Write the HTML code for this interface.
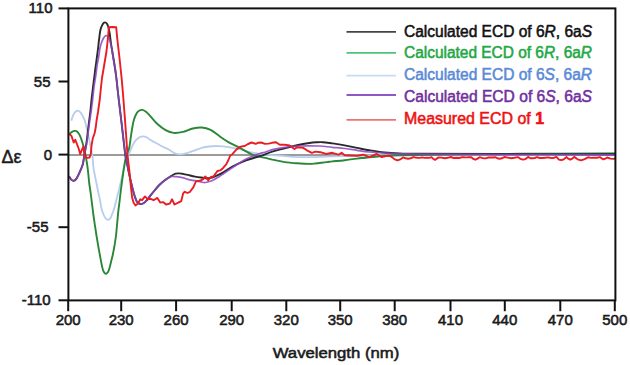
<!DOCTYPE html>
<html><head><meta charset="utf-8"><style>
html,body{margin:0;padding:0;background:#fff;}
svg{display:block;font-family:"Liberation Sans",sans-serif;}
</style></head><body>
<svg width="630" height="365" viewBox="0 0 630 365">
<rect width="630" height="365" fill="#fff"/>
<line x1="68.4" y1="155.0" x2="615.4" y2="155.0" stroke="#7a7a7a" stroke-width="1.6"/>
<path d="M71.3 120.6 C71.7 119.6 72.7 116.0 73.5 114.5 C74.3 113.0 75.2 111.9 76.0 111.3 C76.8 110.7 77.5 110.5 78.3 110.8 C79.1 111.1 80.1 111.7 81.1 113.2 C82.1 114.7 83.6 117.7 84.4 119.7 C85.2 121.7 85.4 122.9 86.0 125.2 C86.6 127.5 87.3 130.4 88.0 133.5 C88.7 136.6 89.4 140.5 90.0 143.5 C90.6 146.5 91.1 148.9 91.6 151.5 C92.1 154.1 92.5 156.5 92.8 158.8 C93.1 161.1 93.0 163.5 93.2 165.5 C93.4 167.5 93.5 168.2 94.0 171.0 C94.5 173.8 95.5 178.3 96.2 182.0 C96.9 185.7 97.8 189.9 98.4 192.9 C99.0 195.9 99.5 197.4 100.0 200.0 C100.5 202.6 100.9 206.1 101.5 208.5 C102.1 210.9 102.8 212.9 103.5 214.5 C104.2 216.1 104.8 217.4 105.5 218.3 C106.2 219.2 107.1 219.8 107.9 219.8 C108.7 219.8 109.6 219.3 110.3 218.3 C111.0 217.3 111.5 215.7 112.2 214.0 C112.9 212.3 113.5 210.8 114.3 208.0 C115.1 205.2 116.3 200.0 117.1 197.0 C117.9 194.0 118.3 192.5 118.9 190.0 C119.5 187.5 120.2 184.8 120.8 182.0 C121.4 179.2 122.1 176.2 122.8 173.0 C123.5 169.8 124.2 165.7 125.0 163.0 C125.8 160.3 126.8 158.6 127.5 157.0 C128.2 155.4 128.6 154.7 129.2 153.5 C129.8 152.3 130.2 151.1 130.8 149.6 C131.4 148.1 132.1 146.1 133.0 144.5 C133.9 142.9 134.9 141.4 136.0 140.2 C137.1 139.0 138.3 138.0 139.5 137.3 C140.7 136.7 141.8 136.3 143.0 136.3 C144.2 136.3 145.8 136.9 147.0 137.5 C148.2 138.1 148.8 138.9 150.5 140.0 C152.2 141.1 155.3 142.7 157.4 143.8 C159.5 144.9 161.2 145.9 163.0 146.8 C164.8 147.7 166.4 148.2 168.4 149.3 C170.4 150.4 172.9 152.6 175.0 153.4 C177.1 154.2 178.7 154.5 181.0 154.3 C183.3 154.2 186.4 153.2 188.7 152.5 C191.0 151.8 192.7 151.1 195.0 150.3 C197.3 149.5 200.1 148.3 202.4 147.7 C204.7 147.1 206.7 146.8 209.0 146.5 C211.3 146.2 213.8 146.0 216.1 146.0 C218.4 146.0 220.7 146.1 223.0 146.3 C225.3 146.5 227.1 146.9 229.8 147.3 C232.5 147.8 236.0 148.2 239.4 149.0 C242.8 149.8 246.2 151.3 250.0 152.2 C253.8 153.1 258.7 153.8 262.0 154.3 C265.3 154.8 267.0 154.8 270.0 155.0 C273.0 155.2 276.7 155.4 280.0 155.7 C283.3 156.0 286.7 156.3 290.0 156.6 C293.3 156.8 295.0 157.2 300.0 157.2 C305.0 157.2 313.3 157.0 320.0 156.8 C326.7 156.6 330.0 156.4 340.0 156.2 C350.0 156.0 361.7 155.8 380.0 155.5 C398.3 155.2 426.7 154.8 450.0 154.5 C473.3 154.2 492.5 154.0 520.0 153.8 C547.5 153.6 599.2 153.5 615.0 153.4" fill="none" stroke="#b6cdee" stroke-width="1.8" stroke-linejoin="round"/>
<path d="M69.6 134.0 C70.0 133.6 71.1 132.3 72.0 131.8 C72.9 131.3 74.0 131.0 74.8 130.9 C75.6 130.8 76.3 130.9 77.0 131.5 C77.7 132.1 78.5 133.1 79.2 134.2 C79.9 135.3 80.5 136.9 81.0 138.3 C81.5 139.7 81.8 140.6 82.4 142.5 C83.0 144.4 83.8 147.1 84.4 149.5 C85.0 151.9 85.4 154.4 85.9 157.0 C86.4 159.6 86.8 162.3 87.2 165.0 C87.6 167.7 87.9 170.0 88.2 173.0 C88.5 176.0 88.8 179.3 89.2 183.0 C89.7 186.7 90.4 191.2 90.9 195.0 C91.4 198.8 91.8 202.3 92.3 206.0 C92.8 209.7 93.2 213.7 93.7 217.0 C94.2 220.3 94.5 223.0 95.0 226.0 C95.5 229.0 95.7 230.8 96.4 235.0 C97.1 239.2 98.2 245.9 99.2 251.4 C100.2 256.9 101.6 264.4 102.4 267.9 C103.2 271.4 103.6 271.5 104.2 272.5 C104.8 273.5 105.5 273.8 106.1 273.7 C106.7 273.6 107.4 272.9 108.0 272.0 C108.6 271.1 109.0 269.7 109.5 268.0 C110.0 266.3 110.5 264.2 111.0 262.0 C111.5 259.8 112.2 257.5 112.8 254.7 C113.4 251.9 114.0 248.3 114.6 245.0 C115.1 241.7 115.6 238.8 116.1 235.0 C116.5 231.2 116.9 225.9 117.3 222.0 C117.7 218.1 117.9 214.9 118.3 211.4 C118.7 207.9 119.2 204.6 119.6 201.0 C120.0 197.4 120.4 193.8 120.9 190.0 C121.4 186.2 121.8 183.0 122.5 178.0 C123.2 173.0 124.5 164.2 125.3 160.0 C126.1 155.8 126.7 155.0 127.3 153.0 C127.9 151.0 128.7 150.2 129.2 148.0 C129.7 145.8 129.9 143.3 130.4 140.0 C130.9 136.7 131.6 131.4 132.2 128.0 C132.8 124.6 133.2 122.0 134.0 119.5 C134.8 117.0 135.9 114.5 136.8 113.0 C137.7 111.5 138.6 111.0 139.5 110.5 C140.4 110.0 141.2 109.7 142.3 109.9 C143.4 110.1 144.6 110.7 146.0 111.8 C147.4 112.9 148.6 114.4 150.5 116.4 C152.4 118.4 154.9 121.7 157.4 124.0 C159.9 126.3 162.9 128.6 165.6 130.1 C168.3 131.6 170.9 132.6 173.8 132.9 C176.7 133.2 180.0 132.6 183.2 131.9 C186.4 131.2 189.7 129.2 192.8 128.5 C195.9 127.8 198.7 127.3 201.7 127.5 C204.7 127.7 207.5 128.4 210.6 129.9 C213.7 131.4 217.0 134.5 220.2 136.7 C223.4 138.9 226.6 141.1 229.8 142.9 C233.0 144.7 236.7 146.3 239.4 147.7 C242.1 149.1 243.6 150.1 246.1 151.4 C248.6 152.7 251.3 154.5 254.3 155.5 C257.3 156.5 260.9 156.9 263.9 157.6 C266.9 158.3 268.8 158.8 272.3 159.6 C275.8 160.3 280.6 161.5 284.7 162.1 C288.8 162.7 292.9 163.0 297.0 163.3 C301.1 163.6 306.2 163.9 309.3 163.9 C312.4 163.9 312.6 163.8 315.5 163.5 C318.4 163.2 323.8 162.4 326.6 162.1 C329.4 161.8 329.3 161.7 332.3 161.4 C335.3 161.1 340.6 160.7 344.7 160.2 C348.8 159.7 353.5 159.0 357.0 158.6 C360.5 158.2 361.8 158.1 365.6 157.7 C369.4 157.3 374.3 156.6 380.0 156.2 C385.7 155.8 388.3 155.6 400.0 155.3 C411.7 155.0 430.0 154.8 450.0 154.5 C470.0 154.2 492.5 154.0 520.0 153.8 C547.5 153.6 599.2 153.5 615.0 153.4" fill="none" stroke="#2a8738" stroke-width="1.9" stroke-linejoin="round"/>
<path d="M69.0 176.4 C69.4 176.9 70.4 178.9 71.2 179.6 C72.0 180.3 72.8 181.0 73.7 180.8 C74.6 180.6 75.4 180.2 76.5 178.6 C77.6 177.0 79.2 173.3 80.2 171.0 C81.2 168.7 82.0 167.0 82.6 165.0 C83.2 163.0 83.4 161.1 83.8 158.8 C84.2 156.5 84.6 153.9 85.0 151.4 C85.4 148.9 86.0 146.2 86.3 144.0 C86.6 141.8 86.8 140.6 87.1 138.0 C87.4 135.4 87.8 131.6 88.2 128.5 C88.6 125.5 88.9 122.6 89.3 119.7 C89.7 116.8 90.0 114.3 90.4 111.0 C90.8 107.7 91.1 103.9 91.5 100.0 C91.9 96.1 92.5 91.6 93.0 87.4 C93.5 83.2 94.1 78.6 94.6 75.0 C95.0 71.4 95.3 68.8 95.7 66.0 C96.1 63.2 96.4 61.0 96.8 58.0 C97.2 55.0 97.7 51.0 98.1 48.0 C98.5 45.0 98.6 42.9 99.0 40.0 C99.4 37.1 99.8 32.8 100.3 30.5 C100.8 28.2 101.3 27.2 101.8 26.0 C102.3 24.8 103.0 23.8 103.5 23.2 C104.0 22.6 104.5 22.3 105.1 22.4 C105.6 22.4 106.2 22.6 106.8 23.5 C107.4 24.4 108.0 25.8 108.5 27.5 C109.0 29.2 109.3 31.1 109.8 34.0 C110.2 36.9 110.6 41.2 111.2 45.0 C111.8 48.8 112.6 53.2 113.2 57.0 C113.8 60.8 114.4 64.2 115.0 68.0 C115.6 71.8 116.0 74.7 116.6 80.0 C117.2 85.3 118.0 93.3 118.8 100.0 C119.6 106.7 120.5 113.7 121.2 120.0 C122.0 126.3 122.6 132.2 123.3 138.0 C124.0 143.8 124.8 151.3 125.3 155.0 C125.8 158.7 125.9 157.3 126.4 160.0 C126.9 162.7 127.8 167.7 128.5 171.0 C129.2 174.3 129.9 177.4 130.5 180.0 C131.1 182.6 131.5 184.2 132.1 186.5 C132.7 188.8 133.3 191.6 134.0 194.0 C134.7 196.4 135.7 199.1 136.4 200.7 C137.2 202.2 137.8 202.8 138.5 203.3 C139.2 203.9 139.9 204.0 140.7 204.0 C141.4 204.0 142.3 203.8 143.0 203.5 C143.7 203.2 144.2 202.8 145.0 202.1 C145.8 201.4 146.7 200.4 147.5 199.5 C148.3 198.6 148.6 197.9 149.8 196.4 C151.0 194.9 152.9 192.4 154.5 190.5 C156.1 188.6 157.6 186.7 159.3 185.0 C161.0 183.3 162.8 181.8 164.5 180.5 C166.2 179.2 168.4 177.8 169.6 177.0 C170.8 176.2 170.4 176.5 171.4 175.9 C172.4 175.3 174.2 174.1 175.5 173.7 C176.8 173.3 177.8 173.4 179.0 173.4 C180.2 173.4 180.9 173.6 182.4 173.8 C183.9 174.1 185.8 174.4 187.9 174.9 C190.0 175.4 192.8 176.2 195.0 176.6 C197.2 177.0 198.6 177.2 201.0 177.5 C203.4 177.8 207.0 178.5 209.7 178.1 C212.4 177.7 215.2 176.2 217.4 175.3 C219.6 174.4 220.4 174.1 222.9 172.6 C225.4 171.1 228.5 168.6 232.4 166.5 C236.3 164.4 241.5 162.0 246.1 160.3 C250.7 158.6 255.4 157.6 259.8 156.2 C264.2 154.8 268.2 152.9 272.3 151.6 C276.4 150.3 280.6 149.4 284.7 148.3 C288.8 147.2 292.9 146.2 297.0 145.3 C301.1 144.4 306.1 143.5 309.3 143.0 C312.5 142.5 313.7 142.4 316.0 142.3 C318.3 142.2 320.3 142.0 323.0 142.2 C325.7 142.4 328.7 142.9 332.3 143.4 C335.9 143.9 340.6 144.7 344.7 145.4 C348.8 146.2 352.9 147.1 357.0 147.9 C361.1 148.7 365.2 149.6 369.3 150.3 C373.4 151.0 377.4 151.7 381.7 152.2 C386.0 152.7 388.6 152.9 395.0 153.2 C401.4 153.4 402.5 153.6 420.0 153.7 C437.5 153.8 467.5 153.9 500.0 154.0 C532.5 154.1 595.8 154.2 615.0 154.3" fill="none" stroke="#2a2a2a" stroke-width="1.9" stroke-linejoin="round"/>
<path d="M69.0 176.4 C69.4 176.9 70.4 178.9 71.2 179.6 C72.0 180.3 72.8 181.0 73.7 180.8 C74.6 180.6 75.4 180.2 76.5 178.6 C77.6 177.0 79.2 173.3 80.2 171.0 C81.2 168.7 82.0 167.0 82.6 165.0 C83.2 163.0 83.4 161.1 83.8 158.8 C84.2 156.5 84.5 153.9 85.0 151.4 C85.5 148.9 86.2 146.2 86.6 144.0 C87.0 141.8 87.2 140.6 87.5 138.0 C87.8 135.4 88.3 131.6 88.7 128.5 C89.1 125.5 89.5 122.8 89.9 119.7 C90.3 116.6 90.8 113.3 91.3 110.0 C91.8 106.7 92.1 103.8 92.6 100.0 C93.0 96.2 93.5 91.2 94.0 87.0 C94.5 82.8 95.4 78.5 95.9 75.0 C96.4 71.5 96.6 68.8 97.0 66.0 C97.4 63.2 98.0 61.0 98.5 58.0 C99.0 55.0 99.5 50.5 100.0 48.0 C100.5 45.5 100.9 44.4 101.4 43.0 C101.9 41.6 102.3 40.5 102.8 39.5 C103.3 38.5 103.7 37.7 104.3 37.0 C104.9 36.3 105.5 35.4 106.2 35.5 C106.9 35.6 107.8 36.4 108.5 37.5 C109.2 38.6 109.7 40.1 110.2 42.0 C110.8 43.9 111.2 46.2 111.8 49.0 C112.3 51.8 113.0 55.8 113.5 59.0 C114.0 62.2 114.6 65.0 115.1 68.5 C115.6 72.0 116.0 74.8 116.6 80.0 C117.2 85.2 118.0 93.3 118.8 100.0 C119.6 106.7 120.5 113.7 121.2 120.0 C122.0 126.3 122.6 132.2 123.3 138.0 C124.0 143.8 124.8 151.3 125.3 155.0 C125.8 158.7 125.9 157.3 126.4 160.0 C126.9 162.7 127.8 167.7 128.5 171.0 C129.2 174.3 129.9 177.4 130.5 180.0 C131.1 182.6 131.5 184.2 132.1 186.5 C132.7 188.8 133.3 191.6 134.0 194.0 C134.7 196.4 135.7 199.1 136.4 200.7 C137.2 202.2 137.8 202.8 138.5 203.3 C139.2 203.9 139.9 204.0 140.7 204.0 C141.4 204.0 142.3 203.8 143.0 203.5 C143.7 203.2 144.2 202.8 145.0 202.1 C145.8 201.4 146.7 200.4 147.5 199.5 C148.3 198.6 148.6 197.9 149.8 196.4 C151.0 194.9 152.9 192.4 154.5 190.5 C156.1 188.6 157.6 186.8 159.3 185.2 C161.0 183.5 162.8 181.9 164.5 180.6 C166.2 179.3 168.4 178.0 169.6 177.3 C170.8 176.6 170.4 176.5 171.4 176.4 C172.4 176.3 173.7 176.4 175.5 176.6 C177.3 176.8 180.3 177.1 182.4 177.6 C184.5 178.1 185.8 178.9 187.9 179.4 C190.0 179.9 192.8 180.3 195.0 180.7 C197.2 181.1 199.3 181.6 201.0 181.9 C202.7 182.2 203.5 182.7 205.3 182.5 C207.1 182.3 209.5 181.8 211.9 180.8 C214.3 179.8 216.6 178.3 219.6 176.4 C222.6 174.5 226.9 171.4 230.0 169.3 C233.1 167.2 235.3 165.7 238.0 164.0 C240.7 162.3 242.5 160.8 246.1 159.0 C249.7 157.2 256.7 154.6 259.8 153.5 C262.9 152.4 262.9 152.9 265.0 152.3 C267.1 151.7 269.0 150.5 272.3 149.7 C275.6 148.9 280.6 147.9 284.7 147.3 C288.8 146.7 292.9 146.2 297.0 146.0 C301.1 145.8 305.5 145.8 309.3 145.8 C313.1 145.8 316.2 145.8 320.0 146.0 C323.8 146.2 328.2 146.9 332.3 147.3 C336.4 147.7 340.6 148.0 344.7 148.5 C348.8 149.0 352.9 149.7 357.0 150.3 C361.1 150.9 363.8 151.5 369.3 152.0 C374.8 152.5 381.6 153.0 390.0 153.4 C398.4 153.8 401.7 154.0 420.0 154.2 C438.3 154.4 467.5 154.5 500.0 154.6 C532.5 154.7 595.8 154.8 615.0 154.8" fill="none" stroke="#8b45c0" stroke-width="1.7" stroke-opacity="0.85" stroke-linejoin="round"/>
<path d="M69.3 133.8 L71.5 136.0 L73.7 142.5 L75.3 139.8 L77.0 144.2 L78.8 149.0 L80.2 154.0 L82.4 148.6 L83.5 146.4 L84.6 156.8 L87.4 157.9 L89.6 157.5 L90.8 153.9 L91.6 145.0 L92.8 138.3 L94.6 133.2 L95.8 127.0 L96.5 121.0 L98.0 112.0 L99.7 100.0 L100.9 88.0 L102.0 78.0 L104.2 65.0 L106.4 52.0 L107.2 45.0 L108.2 35.0 L108.8 27.3 L112.5 27.0 L116.2 27.3 L117.4 40.0 L119.5 58.0 L121.8 80.0 L123.5 100.0 L125.0 120.0 L126.3 138.0 L127.5 155.0 L129.5 172.0 L130.7 185.0 L132.1 197.4 L133.5 202.5 L135.5 205.5 L138.3 203.1 L140.2 199.3 L142.1 200.2 L145.0 196.4 L147.9 199.3 L150.7 198.8 L153.6 200.2 L157.4 197.9 L160.2 202.6 L163.1 202.1 L166.0 204.5 L169.8 203.6 L172.1 199.3 L174.5 204.5 L178.3 202.6 L181.2 201.2 L183.1 193.6 L184.5 191.7 L187.4 193.0 L190.0 191.8 L193.3 187.4 L196.0 181.4 L199.9 180.8 L203.2 179.2 L205.3 176.4 L208.1 180.3 L210.8 177.0 L213.6 176.4 L215.8 173.2 L217.4 171.0 L220.1 170.4 L222.9 168.2 L226.2 164.4 L228.4 160.0 L230.3 155.5 L232.4 154.2 L236.5 149.4 L240.6 146.6 L244.7 146.0 L248.0 144.0 L251.6 142.5 L255.7 143.9 L258.0 142.8 L261.2 142.5 L265.0 143.9 L268.6 143.6 L272.0 142.8 L276.0 142.3 L279.7 144.8 L284.7 144.8 L289.6 145.4 L294.5 149.1 L297.0 147.3 L303.2 147.9 L306.9 150.3 L311.8 152.8 L315.5 151.6 L320.4 152.2 L326.2 154.0 L332.3 152.8 L338.5 154.7 L341.6 152.8 L344.7 155.3 L350.0 155.5 L357.0 155.9 L363.2 154.7 L369.3 157.1 L376.7 154.0 L381.7 157.1 L386.0 156.0 L390.0 155.9 L392.0 157.1 L394.7 159.4 L397.5 160.4 L400.2 159.4 L403.0 157.4 L405.5 158.3 L408.1 158.7 L410.7 158.3 L413.2 157.1 L415.5 157.5 L417.7 157.8 L420.0 157.9 L422.2 157.4 L424.5 157.9 L426.8 157.8 L429.1 157.9 L431.5 157.2 L433.2 158.7 L435.0 159.9 L436.8 158.6 L438.6 157.4 L441.6 157.6 L444.7 158.3 L447.7 157.8 L450.8 157.0 L453.6 158.0 L456.5 157.8 L459.3 158.0 L462.2 157.1 L464.5 157.3 L466.7 157.4 L469.0 157.2 L471.3 157.3 L473.4 159.0 L475.5 159.7 L477.6 158.6 L479.7 157.2 L481.9 157.9 L484.1 158.4 L486.3 158.2 L488.5 157.5 L490.1 157.4 L491.7 157.5 L493.3 157.5 L495.0 157.2 L497.3 158.2 L499.6 158.7 L502.0 158.3 L504.3 157.0 L507.7 157.6 L511.1 158.2 L514.5 157.7 L518.0 157.1 L520.5 158.9 L523.0 159.7 L525.5 159.1 L528.1 156.9 L530.3 158.3 L532.5 158.2 L534.8 158.0 L537.0 157.1 L539.7 158.0 L542.4 158.0 L545.2 157.7 L547.9 157.4 L550.0 157.8 L552.1 158.1 L554.3 157.7 L556.4 156.9 L558.9 159.6 L561.3 160.2 L563.8 159.3 L566.3 157.1 L568.3 158.7 L570.2 159.7 L572.2 158.7 L574.2 156.9 L577.6 159.3 L581.1 160.4 L584.6 159.1 L588.0 157.3 L591.0 157.9 L593.9 157.8 L596.9 157.7 L599.9 157.1 L601.7 158.4 L603.5 159.3 L605.3 158.7 L607.1 157.5 L610.5 158.6 L614.0 158.9 L615.0 158.0" fill="none" stroke="#ea1c24" stroke-width="1.9" stroke-linejoin="round"/>
<rect x="68.4" y="8.4" width="547.0" height="292.0" fill="none" stroke="#111" stroke-width="2"/>
<line x1="58.5" y1="8.4" x2="68.4" y2="8.4" stroke="#111" stroke-width="2"/>
<text x="52.5" y="13.4" font-size="15" text-anchor="end" font-weight="normal" fill="#1a1a1a" stroke="#1a1a1a" stroke-width="0.55">110</text>
<line x1="58.5" y1="81.5" x2="68.4" y2="81.5" stroke="#111" stroke-width="2"/>
<text x="50.5" y="86.5" font-size="15" text-anchor="end" font-weight="normal" fill="#1a1a1a" stroke="#1a1a1a" stroke-width="0.55">55</text>
<line x1="58.5" y1="154.6" x2="68.4" y2="154.6" stroke="#111" stroke-width="2"/>
<text x="52.0" y="159.6" font-size="15" text-anchor="end" font-weight="normal" fill="#1a1a1a" stroke="#1a1a1a" stroke-width="0.55">0</text>
<line x1="58.5" y1="227.2" x2="68.4" y2="227.2" stroke="#111" stroke-width="2"/>
<text x="48.5" y="232.2" font-size="15" text-anchor="end" font-weight="normal" fill="#1a1a1a" stroke="#1a1a1a" stroke-width="0.55">-55</text>
<line x1="58.5" y1="300.3" x2="68.4" y2="300.3" stroke="#111" stroke-width="2"/>
<text x="50.7" y="305.3" font-size="15" text-anchor="end" font-weight="normal" fill="#1a1a1a" stroke="#1a1a1a" stroke-width="0.55">-110</text>
<line x1="68.2" y1="300.4" x2="68.2" y2="311.2" stroke="#111" stroke-width="2"/>
<text x="68.2" y="325.2" font-size="15" text-anchor="middle" font-weight="normal" fill="#1a1a1a" stroke="#1a1a1a" stroke-width="0.55">200</text>
<line x1="121.2" y1="300.4" x2="121.2" y2="311.2" stroke="#111" stroke-width="2"/>
<text x="121.2" y="325.2" font-size="15" text-anchor="middle" font-weight="normal" fill="#1a1a1a" stroke="#1a1a1a" stroke-width="0.55">230</text>
<line x1="176.1" y1="300.4" x2="176.1" y2="311.2" stroke="#111" stroke-width="2"/>
<text x="176.1" y="325.2" font-size="15" text-anchor="middle" font-weight="normal" fill="#1a1a1a" stroke="#1a1a1a" stroke-width="0.55">260</text>
<line x1="231.7" y1="300.4" x2="231.7" y2="311.2" stroke="#111" stroke-width="2"/>
<text x="231.7" y="325.2" font-size="15" text-anchor="middle" font-weight="normal" fill="#1a1a1a" stroke="#1a1a1a" stroke-width="0.55">290</text>
<line x1="286.3" y1="300.4" x2="286.3" y2="311.2" stroke="#111" stroke-width="2"/>
<text x="286.3" y="325.2" font-size="15" text-anchor="middle" font-weight="normal" fill="#1a1a1a" stroke="#1a1a1a" stroke-width="0.55">320</text>
<line x1="340.2" y1="300.4" x2="340.2" y2="311.2" stroke="#111" stroke-width="2"/>
<text x="340.2" y="325.2" font-size="15" text-anchor="middle" font-weight="normal" fill="#1a1a1a" stroke="#1a1a1a" stroke-width="0.55">350</text>
<line x1="394.7" y1="300.4" x2="394.7" y2="311.2" stroke="#111" stroke-width="2"/>
<text x="394.7" y="325.2" font-size="15" text-anchor="middle" font-weight="normal" fill="#1a1a1a" stroke="#1a1a1a" stroke-width="0.55">380</text>
<line x1="450.5" y1="300.4" x2="450.5" y2="311.2" stroke="#111" stroke-width="2"/>
<text x="450.5" y="325.2" font-size="15" text-anchor="middle" font-weight="normal" fill="#1a1a1a" stroke="#1a1a1a" stroke-width="0.55">410</text>
<line x1="504.8" y1="300.4" x2="504.8" y2="311.2" stroke="#111" stroke-width="2"/>
<text x="504.8" y="325.2" font-size="15" text-anchor="middle" font-weight="normal" fill="#1a1a1a" stroke="#1a1a1a" stroke-width="0.55">440</text>
<line x1="560.3" y1="300.4" x2="560.3" y2="311.2" stroke="#111" stroke-width="2"/>
<text x="560.3" y="325.2" font-size="15" text-anchor="middle" font-weight="normal" fill="#1a1a1a" stroke="#1a1a1a" stroke-width="0.55">470</text>
<line x1="614.8" y1="300.4" x2="614.8" y2="311.2" stroke="#111" stroke-width="2"/>
<text x="614.8" y="325.2" font-size="15" text-anchor="middle" font-weight="normal" fill="#1a1a1a" stroke="#1a1a1a" stroke-width="0.55">500</text>
<text x="1.5" y="163.2" font-size="18" text-anchor="start" font-weight="normal" fill="#1a1a1a" stroke="#1a1a1a" stroke-width="0.5">&#916;&#949;</text>
<text x="336.0" y="358.3" font-size="15.5" text-anchor="middle" font-weight="normal" fill="#1a1a1a" stroke="#1a1a1a" stroke-width="0.55" textLength="126.6" lengthAdjust="spacingAndGlyphs">Wavelength (nm)</text>
<line x1="346.5" y1="31.8" x2="396" y2="31.8" stroke="#444" stroke-width="1.8"/>
<text x="404.0" y="36.6" font-size="16" text-anchor="start" font-weight="normal" fill="#111" stroke="#111" stroke-width="0.55" textLength="188" lengthAdjust="spacingAndGlyphs">Calculated ECD of 6<tspan font-style="italic">R</tspan>, 6a<tspan font-style="italic">S</tspan></text>
<line x1="346.5" y1="52.9" x2="396" y2="52.9" stroke="#4cc47a" stroke-width="1.8"/>
<text x="404.0" y="57.7" font-size="16" text-anchor="start" font-weight="normal" fill="#22a844" stroke="#22a844" stroke-width="0.55" textLength="188" lengthAdjust="spacingAndGlyphs">Calculated ECD of 6<tspan font-style="italic">R</tspan>, 6a<tspan font-style="italic">R</tspan></text>
<line x1="346.5" y1="75.6" x2="396" y2="75.6" stroke="#c6dcf4" stroke-width="1.8"/>
<text x="404.0" y="79.7" font-size="16" text-anchor="start" font-weight="normal" fill="#5a8ad6" stroke="#5a8ad6" stroke-width="0.55" textLength="188" lengthAdjust="spacingAndGlyphs">Calculated ECD of 6<tspan font-style="italic">S</tspan>, 6a<tspan font-style="italic">R</tspan></text>
<line x1="346.5" y1="95.0" x2="396" y2="95.0" stroke="#9058c4" stroke-width="1.8"/>
<text x="404.0" y="102.0" font-size="16" text-anchor="start" font-weight="normal" fill="#7030a0" stroke="#7030a0" stroke-width="0.55" textLength="188" lengthAdjust="spacingAndGlyphs">Calculated ECD of 6<tspan font-style="italic">S</tspan>, 6a<tspan font-style="italic">S</tspan></text>
<line x1="346.5" y1="119.8" x2="396" y2="119.8" stroke="#ee7474" stroke-width="1.8"/>
<text x="404.0" y="124.3" font-size="16" text-anchor="start" font-weight="normal" fill="#ee1111" stroke="#ee1111" stroke-width="0.55" textLength="140" lengthAdjust="spacingAndGlyphs">Measured ECD of <tspan font-weight="bold">1</tspan></text>
</svg>
</body></html>
